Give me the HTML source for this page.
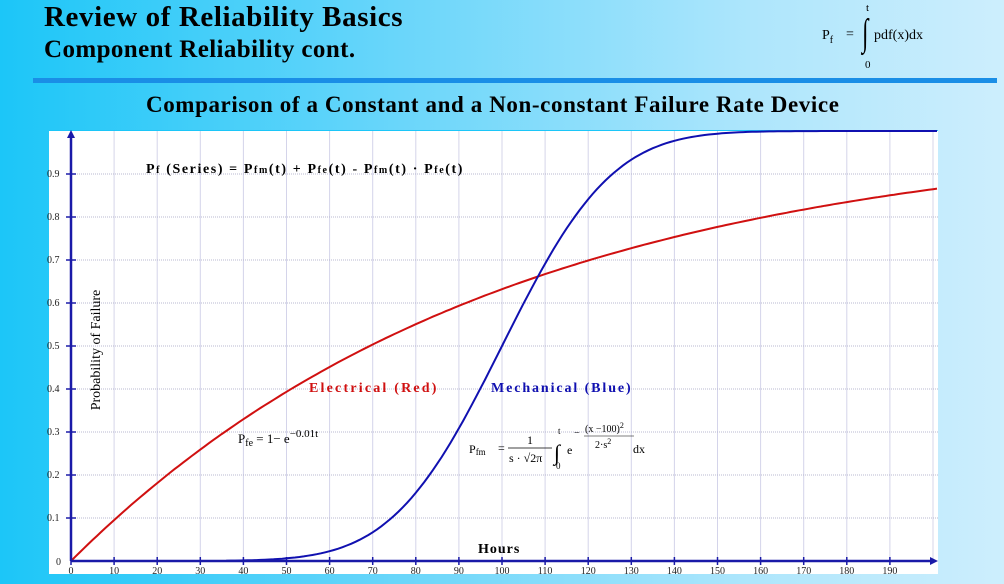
<!DOCTYPE html>
<html><head><meta charset="utf-8"><style>
html,body{margin:0;padding:0}
body{width:1004px;height:584px;overflow:hidden;background:linear-gradient(90deg,#1cc6f8 0%,#6ad6fa 40%,#aee6fc 75%,#cdeefd 100%);position:relative;font-family:"Liberation Serif",serif}
.t{position:absolute;font-weight:bold;color:#000;white-space:nowrap}
</style></head><body>
<div class="t" style="left:44px;top:1px;font-size:29px;letter-spacing:0.6px">Review of Reliability Basics</div>
<div class="t" style="left:44px;top:36px;font-size:25px;letter-spacing:0.4px">Component Reliability cont.</div>
<div style="position:absolute;left:820px;top:2px;font-size:14px;width:140px;height:70px">
 <span style="position:absolute;left:2px;top:26px;">P<sub style="font-size:10px">f</sub></span>
 <span style="position:absolute;left:26px;top:25px">=</span>
 <span style="position:absolute;left:40px;top:12px;font-size:38px;transform:scaleX(0.6);line-height:38px">∫</span>
 <span style="position:absolute;left:46px;top:0px;font-size:11px">t</span>
 <span style="position:absolute;left:45px;top:57px;font-size:11px">0</span>
 <span style="position:absolute;left:54px;top:26px">pdf(x)dx</span>
</div>
<div style="position:absolute;left:33px;top:78px;width:964px;height:5px;background:#1a8ee6"></div>
<div class="t" style="left:146px;top:92px;font-size:23px;letter-spacing:0.6px">Comparison of a Constant and a Non-constant Failure Rate Device</div>
<svg id="s" style="position:absolute;left:0;top:0" width="1004" height="584">
<rect x="49" y="130" width="889" height="444" fill="#fff"/>
<line x1="49" y1="130.5" x2="938" y2="130.5" stroke="#1cc6f8" stroke-width="1"/>
<g id="grid"></g>
<path id="red" fill="none" stroke="#d01010" stroke-width="2"/>
<path id="blue" fill="none" stroke="#1010b0" stroke-width="2"/>
<line x1="71" y1="561" x2="71" y2="134" stroke="#1a1aa8" stroke-width="2.5"/>
<polygon points="71,130 67,138 75,138" fill="#1a1aa8"/>
<line x1="71" y1="561" x2="932" y2="561" stroke="#1a1aa8" stroke-width="2.5"/>
<polygon points="938,561 930,557 930,565" fill="#1a1aa8"/>
<g id="lab" font-family="Liberation Serif,serif" font-size="10" fill="#222"></g>
<text x="0" y="0" transform="translate(100 350) rotate(-90)" font-size="14" font-family="Liberation Serif,serif" text-anchor="middle">Probability of Failure</text>
<text x="478" y="553" font-size="14" font-weight="bold" font-family="Liberation Serif,serif" letter-spacing="1">Hours</text>
<text x="146" y="173" font-size="14" font-weight="bold" font-family="Liberation Serif,serif" letter-spacing="1.6">P<tspan font-size="10">f</tspan> (Series) = P<tspan font-size="10">fm</tspan>(t) + P<tspan font-size="10">fe</tspan>(t) - P<tspan font-size="10">fm</tspan>(t) · P<tspan font-size="10">fe</tspan>(t)</text>
<text x="309" y="392" font-size="14" font-weight="bold" fill="#d01010" font-family="Liberation Serif,serif" letter-spacing="2.2">Electrical (Red)</text>
<text x="491" y="392" font-size="14" font-weight="bold" fill="#1010b0" font-family="Liberation Serif,serif" letter-spacing="1.9">Mechanical (Blue)</text>
<text x="238" y="443" font-size="13" font-family="Liberation Serif,serif">P<tspan font-size="10" dy="3">fe</tspan><tspan dy="-3"> = 1− e</tspan><tspan font-size="11" dy="-6">−0.01t</tspan></text>
<g font-family="Liberation Serif,serif" font-size="12">
<text x="469" y="453">P<tspan font-size="9" dy="2">fm</tspan></text>
<text x="498" y="452">=</text>
<text x="527" y="444">1</text>
<line x1="508" y1="448" x2="552" y2="448" stroke="#000" stroke-width="0.8"/>
<text x="509" y="462">s · √2π</text>
<text x="554" y="460" font-size="22">∫</text>
<text x="558" y="434" font-size="9">t</text>
<text x="556" y="469" font-size="9">0</text>
<text x="567" y="454">e</text>
<text x="574" y="436" font-size="10">−</text>
<text x="585" y="432" font-size="10">(x −100)<tspan font-size="8" dy="-4">2</tspan></text>
<line x1="584" y1="436" x2="634" y2="436" stroke="#000" stroke-width="0.6"/>
<text x="595" y="448" font-size="10">2·s<tspan font-size="8" dy="-4">2</tspan></text>
<text x="633" y="453">dx</text>
</g>
</svg>
<script>
var ns="http://www.w3.org/2000/svg",g=document.getElementById('grid'),lab=document.getElementById('lab');
function X(h){return 71+h*4.31}function Y(p){return 561-p*430}
function el(t,a,p){var e=document.createElementNS(ns,t);for(var k in a)e.setAttribute(k,a[k]);p.appendChild(e);return e}
for(var h=10;h<=200;h+=10){var x=X(h);if(x<938)el('line',{x1:x,y1:131,x2:x,y2:561,stroke:'#d4d4ea','stroke-width':1},g)}
for(var i=1;i<=9;i++){var y=Y(i/10);el('line',{x1:71,y1:y,x2:938,y2:y,stroke:'#b8b8d0','stroke-width':1,'stroke-dasharray':'1,1'},g);
el('line',{x1:66,y1:y,x2:76,y2:y,stroke:'#1a1aa8','stroke-width':1.5},g);
var t=el('text',{x:47,y:y+3},lab);t.textContent='0.'+i;}
var t0=el('text',{x:56,y:565},lab);t0.textContent='0';
for(var h=0;h<=190;h+=10){var x=X(h);el('line',{x1:x,y1:557,x2:x,y2:565,stroke:'#1a1aa8','stroke-width':1.5},g);var t=el('text',{x:x,y:574,'text-anchor':'middle'},lab);t.textContent=h;}
function erf(x){var s=x<0?-1:1;x=Math.abs(x);var t=1/(1+0.3275911*x);var y=1-(((((1.061405429*t-1.453152027)*t)+1.421413741)*t-0.284496736)*t+0.254829592)*t*Math.exp(-x*x);return s*y}
var r='',b='';
for(var h=0;h<=201;h+=1){var x=X(h);if(x>937)x=937;r+=(h?'L':'M')+x.toFixed(1)+','+Y(1-Math.exp(-0.01*h)).toFixed(1);}
for(var h=36;h<=201;h+=1){var x=X(h);if(x>937)x=937;var p=0.5*(1+erf((h-100)/(20*Math.SQRT2)));b+=(h>36?'L':'M')+x.toFixed(1)+','+Y(p).toFixed(1);}
document.getElementById('red').setAttribute('d',r);document.getElementById('blue').setAttribute('d',b);
</script>
</body></html>
